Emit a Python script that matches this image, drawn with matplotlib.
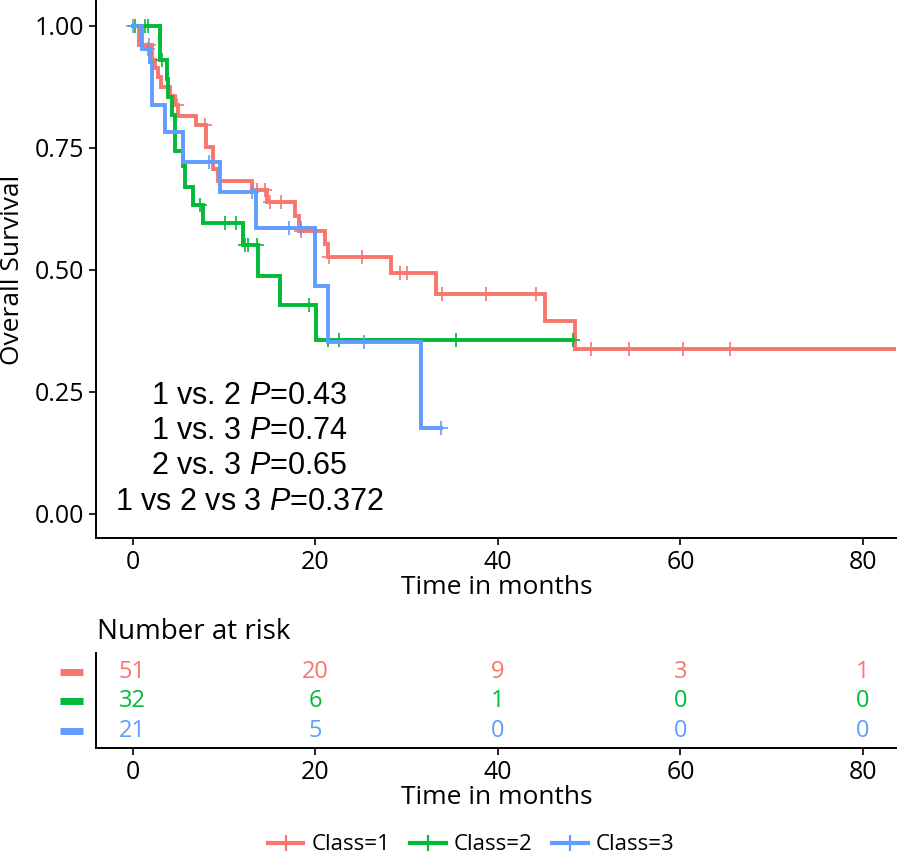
import matplotlib
matplotlib.use("Agg")
import matplotlib.pyplot as plt
import matplotlib.transforms as mtransforms
from matplotlib.lines import Line2D
import numpy as np

plt.rcParams["font.family"] = ["Open Sans", "DejaVu Sans"]
plt.rcParams["mathtext.fontset"] = "custom"
plt.rcParams["mathtext.rm"] = "Liberation Sans"
plt.rcParams["mathtext.it"] = "Liberation Sans:italic"

RED, GREEN, BLUE = "#F8766D", "#00BA38", "#619CFF"

# Kaplan-Meier steps: (time of drop, survival after drop)
red_times = [0, 0.7, 2.1, 2.5, 2.8, 3.1, 4.1, 4.65, 5.0, 7.0, 8.0, 8.85, 9.4,
             13.05, 14.7, 17.8, 18.2, 21.1, 21.4, 28.3, 33.2, 45.2, 48.5]
red_surv = [1.0, 0.961, 0.93, 0.913, 0.895, 0.875, 0.857, 0.837, 0.816, 0.796, 0.752, 0.707, 0.683,
            0.663, 0.639, 0.611, 0.58, 0.553, 0.526, 0.493, 0.451, 0.395, 0.337]
red_end = 86
red_cens = [1.8, 4.85, 7.9, 13.6, 14.5, 15.1, 16.3, 18.5, 21.5, 25.1, 29.3, 30.1,
            33.9, 38.7, 44.2, 50.2, 54.4, 60.3, 65.4]

green_times = [0, 3.0, 3.75, 3.9, 4.3, 4.65, 5.5, 5.75, 6.66, 7.7, 12.1, 13.7, 16.2, 20.1]
green_surv = [1.0, 0.93, 0.892, 0.855, 0.817, 0.744, 0.712, 0.669, 0.633, 0.596, 0.55, 0.488, 0.428, 0.357]
green_end = 48.2
green_cens = [0.3, 1.4, 1.7, 3.2, 7.4, 10.1, 11.3, 12.3, 12.6, 13.6, 19.3, 21.4, 22.65, 35.4, 48.2]

blue_times = [0, 1.0, 1.9, 2.1, 3.6, 5.56, 9.6, 13.5, 20.0, 21.4, 31.6]
blue_surv = [1.0, 0.952, 0.925, 0.837, 0.782, 0.722, 0.659, 0.585, 0.468, 0.352, 0.176]
blue_end = 33.75
blue_cens = [0.1, 1.7, 8.4, 13.1, 17.1, 18.5, 25.3, 33.75]

classes = ["Class=1", "Class=2", "Class=3"]
risk_times = [0, 20, 40, 60, 80]
risk_red = [51, 20, 9, 3, 1]
risk_green = [32, 6, 1, 0, 0]
risk_blue = [21, 5, 0, 0, 0]

pvals = ["1 vs. 2 $\\mathit{P}$=0.43", "1 vs. 3 $\\mathit{P}$=0.74",
         "2 vs. 3 $\\mathit{P}$=0.65", "1 vs 2 vs 3 $\\mathit{P}$=0.372"]

W, H = 898, 857
fig = plt.figure(figsize=(W / 100, H / 100), dpi=100)

XMIN, XMAX = -4.0, 83.6


def fx(px):
    return px / W


def fy(py):
    return 1 - py / H


ax = fig.add_axes([fx(96), fy(538.3), (896 - 96) / W, (538.3 - 1.5) / H])
ax.set_xlim(XMIN, XMAX)
ax.set_ylim(-0.05, 1.05)

series = [
    (red_times, red_surv, red_end, red_cens, RED),
    (green_times, green_surv, green_end, green_cens, GREEN),
    (blue_times, blue_surv, blue_end, blue_cens, BLUE),
]
for times, surv, end, cens, col in series:
    t = list(times) + [end]
    s = list(surv) + [surv[-1]]
    ax.step(t, s, where="post", color=col, lw=2.8, solid_joinstyle="miter")
    idx = np.searchsorted(times, cens, side="right") - 1
    ax.plot(cens, np.array(surv)[idx], ls="none", marker="+", ms=9.5, mew=1.2, color=col)

for i, txt in enumerate(pvals):
    ax.text(fx(249), fy(396 + 35.2 * i), txt, transform=fig.transFigure,
            ha="center", va="center", fontsize=22, family="Liberation Sans")

for a in ["top", "right"]:
    ax.spines[a].set_visible(False)
for a in ["left", "bottom"]:
    ax.spines[a].set_linewidth(1.4)
ax.set_xticks(risk_times)
ax.set_yticks([0, 0.25, 0.5, 0.75, 1.0])
ax.set_yticklabels(["0.00", "0.25", "0.50", "0.75", "1.00"])
ax.tick_params(axis="both", length=4.8, width=1.2, labelsize=18, pad=3.5)

fig.text(fx(13), fy(270), "Overall Survival", rotation=90, ha="center", va="center", fontsize=19)
fig.text(fx(497), fy(588), "Time in months", ha="center", va="center", fontsize=19)

# risk table
rax = fig.add_axes([fx(96), fy(748), (896 - 96) / W, (748 - 653) / H])
rax.set_xlim(XMIN, XMAX)
rax.set_ylim(0.41, 3.65)
rows = [risk_red, risk_green, risk_blue]
cols = [RED, GREEN, BLUE]
trans = mtransforms.blended_transform_factory(fig.transFigure, rax.transData)
for r, (vals, col) in enumerate(zip(rows, cols)):
    yrow = 3 - r
    for tt, v in zip(risk_times, vals):
        rax.text(tt, yrow, str(v), color=col, ha="center", va="center", fontsize=17)
    rax.plot([fx(60), fx(83)], [yrow, yrow], color=col, lw=5, solid_capstyle="butt",
             transform=trans, clip_on=False)
for a in ["top", "right"]:
    rax.spines[a].set_visible(False)
for a in ["left", "bottom"]:
    rax.spines[a].set_linewidth(1.4)
rax.set_yticks([])
rax.set_xticks(risk_times)
rax.tick_params(axis="x", length=4.8, width=1.2, labelsize=18, pad=3.5)

fig.text(fx(97), fy(639), "Number at risk", ha="left", va="baseline", fontsize=20)
fig.text(fx(497), fy(797.7), "Time in months", ha="center", va="center", fontsize=19)

handles = [Line2D([], [], color=c, lw=3, marker="+", ms=12, mew=1.6) for c in cols]
fig.legend(handles, classes, loc="center", bbox_to_anchor=(fx(471), fy(845)),
           ncol=3, frameon=False, fontsize=16, handlelength=1.6, handletextpad=0.35,
           columnspacing=0.9, borderpad=0, borderaxespad=0)

fig.savefig("out.png", dpi=100)
